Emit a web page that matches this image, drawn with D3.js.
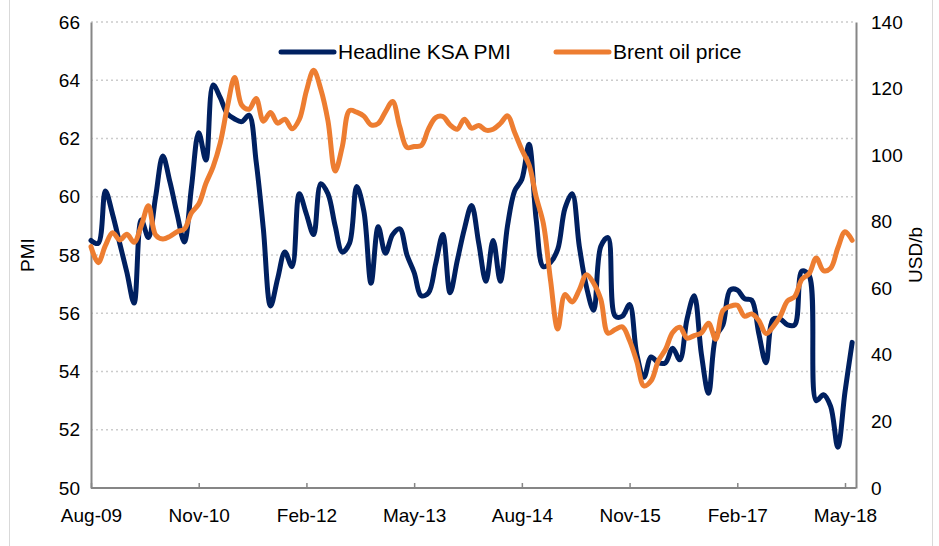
<!DOCTYPE html>
<html>
<head>
<meta charset="utf-8">
<script src="https://cdn.jsdelivr.net/npm/d3@7"></script>
<style>
  body { margin: 0; background: #fff; }
  text { font-family: "Liberation Sans", Arial, sans-serif; fill: #000; }
</style>
</head>
<body>
<div id="plot"></div>
<script>
// monthly series, Aug-09 .. Jun-18
const startMonth = new Date(2009, 7, 1);

const pmi = [
  58.5, 58.4, 60.2, 59.4, 58.4, 57.4, 56.35, 59.2, 58.6, 60.0, 61.4, 60.5,
  59.4, 58.45, 60.35, 62.2, 61.26, 63.84, 63.4, 62.85, 62.67, 62.58, 62.8, 61.2,
  58.9, 56.25, 57.2, 58.1, 57.6, 60.1, 59.4, 58.7, 60.45, 60.1, 59.0, 58.1,
  58.4, 60.35, 59.5, 57.03, 58.97, 58.06, 58.7, 58.9, 58.0, 57.4, 56.6, 56.7,
  57.7, 58.7, 56.7, 57.8, 58.9, 59.7, 58.4, 57.1, 58.5, 57.1, 59.0, 60.2,
  60.6, 61.8, 59.2, 57.6, 57.75, 58.2, 59.6, 60.1, 58.3, 56.9, 56.1, 58.3,
  58.6, 55.9, 55.9, 56.3, 54.6, 53.8, 54.5, 54.3, 54.3, 54.8, 54.4, 55.8,
  56.6, 54.6, 53.25, 55.2, 55.6, 56.8, 56.8, 56.5, 56.45, 55.3, 54.3, 55.8,
  55.8, 55.6, 55.6, 57.45, 57.3, 53.0, 53.2, 52.8, 51.4, 53.3, 55.0
];

const brent = [
  72.5, 67.7, 72.8, 76.7, 74.5, 76.2, 73.8, 78.8, 84.8, 76.0, 74.8, 75.6,
  77.0, 77.8, 82.7, 85.3, 91.5, 96.5, 103.7, 114.6, 123.3, 115.0, 113.8, 117.0,
  110.2, 112.8, 109.6, 110.8, 107.9, 110.7, 119.3, 125.5, 119.8, 110.3, 95.2, 102.6,
  113.4, 112.9, 111.7, 109.1, 109.5, 113.0, 116.1, 108.5, 102.3, 102.6, 102.9, 107.9,
  111.3, 111.6, 109.1, 107.8, 110.8, 108.1, 108.9, 107.5, 107.8, 109.5, 111.8, 106.8,
  101.6, 97.1, 87.4, 79.4, 62.3, 47.8, 58.1, 55.9, 59.5, 64.1, 61.5, 56.6,
  46.5, 47.6, 48.4, 44.3, 38.0, 30.7, 32.2, 38.2, 41.6, 46.7, 48.3, 45.0,
  45.8, 46.6, 49.5, 44.7, 53.3, 54.6, 54.9, 51.6, 52.3, 50.3, 46.4, 48.5,
  51.7, 56.2, 57.5, 62.7, 64.4, 69.1, 65.3, 66.0, 72.1, 77.0, 74.4
];

const xTickLabels = ["Aug-09", "Nov-10", "Feb-12", "May-13", "Aug-14", "Nov-15", "Feb-17", "May-18"];
const pmiTicks = [50, 52, 54, 56, 58, 60, 62, 64, 66];
const oilTicks = [0, 20, 40, 60, 80, 100, 120, 140];

const months = d3.timeMonth.range(startMonth, d3.timeMonth.offset(startMonth, pmi.length));
const fmt = d3.timeFormat("%b-%y");

const W = 939, H = 546;
const margin = {left: 91, right: 856, top: 22, bottom: 488};

const svg = d3.select("#plot").append("svg")
  .attr("width", W)
  .attr("height", H);

// chart frame
svg.append("line").attr("x1", 9.5).attr("x2", 9.5).attr("y1", 0).attr("y2", H)
  .attr("stroke", "#d9d9d9").attr("stroke-width", 1);
svg.append("line").attr("x1", 932.5).attr("x2", 932.5).attr("y1", 0).attr("y2", H)
  .attr("stroke", "#d9d9d9").attr("stroke-width", 1);

// scales: index of month since Aug-09
const x = d3.scaleLinear().domain([0, 105]).range([margin.left, 845]);
const y = d3.scaleLinear().domain([50, 66]).range([margin.bottom, margin.top]);
const y2 = d3.scaleLinear().domain([0, 140]).range([margin.bottom, margin.top]);

// gridlines
svg.append("g")
  .selectAll("line")
  .data(pmiTicks.slice(1))
  .join("line")
    .attr("x1", margin.left).attr("x2", margin.right)
    .attr("y1", d => y(d)).attr("y2", d => y(d))
    .attr("stroke", "#cccccc")
    .attr("stroke-width", 1.5)
    .attr("stroke-dasharray", "2,3");

// x axis
const tickIdx = xTickLabels.map(l => months.findIndex(m => fmt(m) === l));
const xAxis = d3.axisBottom(x)
  .tickValues(tickIdx)
  .tickFormat((d, i) => xTickLabels[i])
  .tickSizeInner(-5)
  .tickSizeOuter(0)
  .tickPadding(21);
const gx = svg.append("g")
  .attr("transform", "translate(0," + margin.bottom + ")")
  .call(xAxis);
gx.select(".domain").attr("d", "M" + margin.left + ",0H" + margin.right).attr("stroke", "#868686").attr("stroke-width", 2);
gx.selectAll(".tick line").attr("stroke", "#868686").attr("stroke-width", 1.5);
gx.selectAll(".tick text").attr("font-size", 19).attr("fill", "#000").style("font-family", "Liberation Sans, Arial, sans-serif");

// left axis
const gy = svg.append("g")
  .attr("transform", "translate(" + margin.left + ",0)")
  .call(d3.axisLeft(y).tickValues(pmiTicks).tickSize(0).tickPadding(11));
gy.select(".domain").attr("stroke", "#868686").attr("stroke-width", 2);
gy.selectAll(".tick text").attr("font-size", 19).attr("fill", "#000").style("font-family", "Liberation Sans, Arial, sans-serif");

// right axis
const gy2 = svg.append("g")
  .attr("transform", "translate(" + margin.right + ",0)")
  .call(d3.axisRight(y2).tickValues(oilTicks).tickSize(0).tickPadding(15));
gy2.select(".domain").attr("stroke", "#868686").attr("stroke-width", 2);
gy2.selectAll(".tick text").attr("font-size", 19).attr("fill", "#000").style("font-family", "Liberation Sans, Arial, sans-serif");

// axis titles
svg.append("text")
  .attr("transform", "translate(34," + ((margin.top + margin.bottom) / 2) + ") rotate(-90)")
  .attr("text-anchor", "middle")
  .attr("font-size", 19)
  .text("PMI");
svg.append("text")
  .attr("transform", "translate(922," + ((margin.top + margin.bottom) / 2) + ") rotate(-90)")
  .attr("text-anchor", "middle")
  .attr("font-size", 19)
  .text("USD/b");

// lines
const pmiLine = d3.line()
  .x((d, i) => x(i))
  .y(d => y(d))
  .curve(d3.curveCatmullRom.alpha(0.5));
const oilLine = d3.line()
  .x((d, i) => x(i))
  .y(d => y2(d))
  .curve(d3.curveCatmullRom.alpha(0.5));

svg.append("path")
  .datum(pmi)
  .attr("fill", "none")
  .attr("stroke", "#002060")
  .attr("stroke-width", 5)
  .attr("stroke-linejoin", "round")
  .attr("stroke-linecap", "round")
  .attr("d", pmiLine);

svg.append("path")
  .datum(brent)
  .attr("fill", "none")
  .attr("stroke", "#ED7D31")
  .attr("stroke-width", 5)
  .attr("stroke-linejoin", "round")
  .attr("stroke-linecap", "round")
  .attr("d", oilLine);

// legend
const legend = [
  {name: "Headline KSA PMI", color: "#002060", x: 281},
  {name: "Brent oil price", color: "#ED7D31", x: 556}
];
const lg = svg.append("g").selectAll("g")
  .data(legend)
  .join("g")
    .attr("transform", d => "translate(" + d.x + ",52)");
lg.append("line")
  .attr("x1", 0).attr("x2", 53)
  .attr("stroke", d => d.color)
  .attr("stroke-width", 5)
  .attr("stroke-linecap", "round");
lg.append("text")
  .attr("x", 57)
  .attr("dy", "0.35em")
  .attr("font-size", 21)
  .text(d => d.name);
</script>
</body>
</html>
